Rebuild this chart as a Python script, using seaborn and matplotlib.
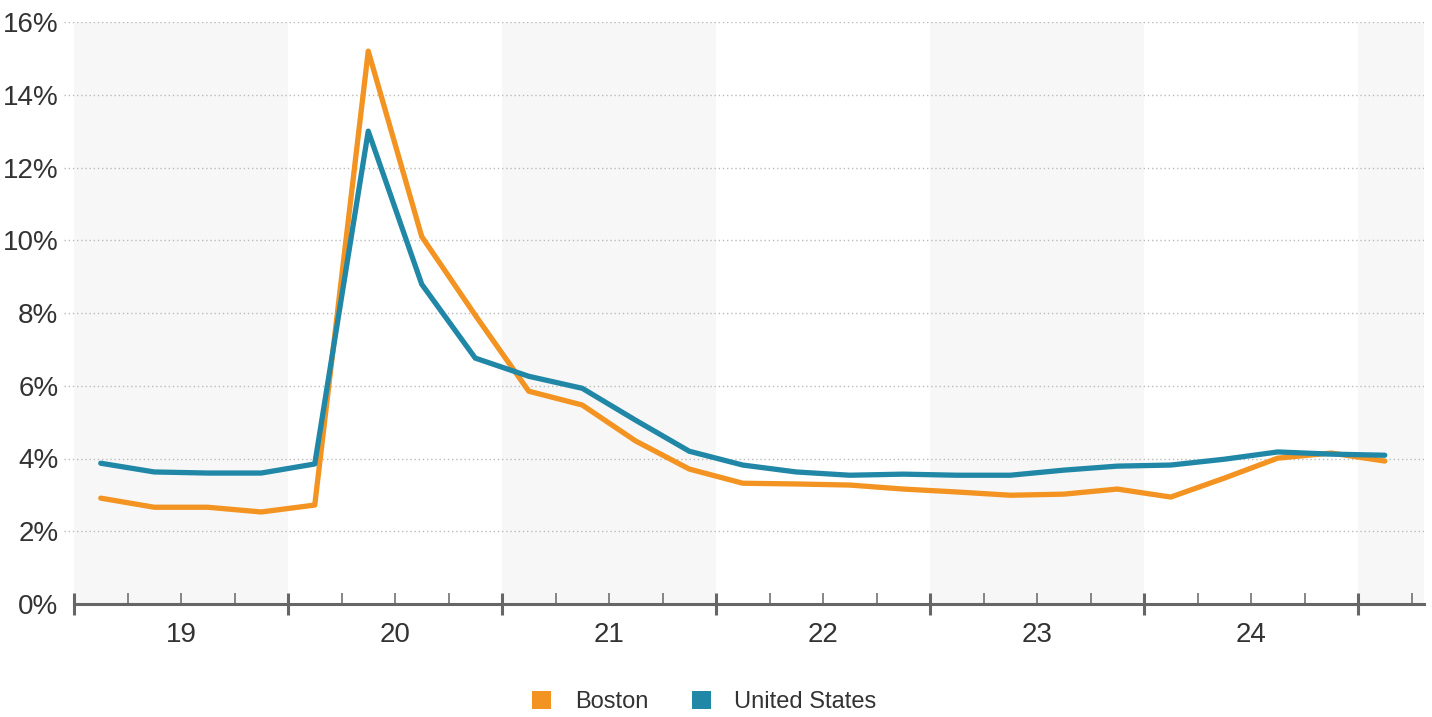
import numpy as np
import pandas as pd
import matplotlib
matplotlib.use("Agg")
import matplotlib.pyplot as plt
from matplotlib.patches import Patch
import seaborn as sns

# Quarterly unemployment rate (%), 2019 Q1 - 2025 Q1
quarters = [f"{y}Q{q}" for y in range(2019, 2026) for q in range(1, 5)][:25]
boston = [2.91, 2.66, 2.66, 2.53, 2.72, 15.2, 10.1, 7.94, 5.85, 5.47, 4.48, 3.71,
          3.32, 3.30, 3.27, 3.16, 3.08, 2.99, 3.02, 3.16, 2.94, 3.46, 4.01, 4.15, 3.93]
united_states = [3.87, 3.63, 3.60, 3.60, 3.85, 13.0, 8.79, 6.76, 6.26, 5.93, 5.05, 4.20,
                 3.82, 3.63, 3.54, 3.57, 3.54, 3.54, 3.68, 3.79, 3.82, 3.98, 4.18, 4.12, 4.09]
year_labels = ["19", "20", "21", "22", "23", "24"]
y_ticks = [0, 2, 4, 6, 8, 10, 12, 14, 16]
series_names = ["Boston", "United States"]
palette = {"Boston": "#F39321", "United States": "#2187A7"}

# long-format table; x is the middle of each quarter (in quarter units)
pos = np.arange(len(quarters)) + 0.5
df = pd.DataFrame({
    "x": np.concatenate([pos, pos]),
    "rate": boston + united_states,
    "series": ["Boston"] * len(boston) + ["United States"] * len(united_states),
})

sns.set_theme(style="white")
plt.rcParams["font.family"] = ["Liberation Sans", "DejaVu Sans"]
text_color = "#333333"
axis_color = "#666666"

W, H = 1432, 717
fig = plt.figure(figsize=(W / 100, H / 100), dpi=100)
left_px, right_px, top_px, bottom_px = 64, 1424, 22, 604
ax = fig.add_axes([left_px / W, (H - bottom_px) / H,
                   (right_px - left_px) / W, (bottom_px - top_px) / H])

q_px = 53.5
xmin = -(74 - left_px) / q_px
xmax = (right_px - 74) / q_px
ax.set_xlim(xmin, xmax)
ax.set_ylim(0, 16)

# alternating shaded year bands
n_years = 7
for k in range(0, n_years, 2):
    ax.axvspan(4 * k, min(4 * k + 4, xmax), color="#F7F7F7", lw=0, zorder=0)

# dotted horizontal gridlines
for yv in y_ticks[1:]:
    ax.axhline(yv, color="#BBBBBB", lw=1.0, ls=(0, (1, 2)), zorder=1)

sns.lineplot(data=df, x="x", y="rate", hue="series", palette=palette,
             hue_order=series_names, linewidth=3.8, legend=False, ax=ax,
             zorder=3)

# axis styling
for s in ["left", "right", "top"]:
    ax.spines[s].set_visible(False)
ax.spines["bottom"].set_color(axis_color)
ax.spines["bottom"].set_linewidth(2.2)
ax.spines["bottom"].set_bounds(0, xmax)
ax.spines["bottom"].set_zorder(4)

ax.set_xticks(np.arange(0, 25, 4))
ax.set_xticks([q for q in range(1, 26) if q % 4 != 0], minor=True)
ax.tick_params(axis="x", which="major", direction="inout", length=16,
               width=2.2, color=axis_color, labelbottom=False, bottom=True)
ax.tick_params(axis="x", which="minor", direction="in", length=8,
               width=1.1, color=axis_color, bottom=True)

ax.set_yticks(y_ticks)
ax.set_yticklabels([f"{v}%" for v in y_ticks])
ax.tick_params(axis="y", length=0, pad=4, labelsize=20, labelcolor=text_color)

for i, lab in enumerate(year_labels):
    ax.text(4 * i + 2, -0.85, lab, ha="center", va="center", fontsize=20,
            color=text_color, transform=ax.transData)

ax.set_xlabel("")
ax.set_ylabel("")
ax.grid(False)

handles = [Patch(facecolor=palette[n], edgecolor="none", label=n) for n in series_names]
leg = fig.legend(handles=handles, loc="center", ncol=2,
                 bbox_to_anchor=(704.5 / W, 1 - 702 / H), frameon=False,
                 fontsize=17, handlelength=0.8, handleheight=0.8,
                 handletextpad=1.0, columnspacing=1.85)
for t in leg.get_texts():
    t.set_color(text_color)

fig.savefig("out.png", dpi=100)
